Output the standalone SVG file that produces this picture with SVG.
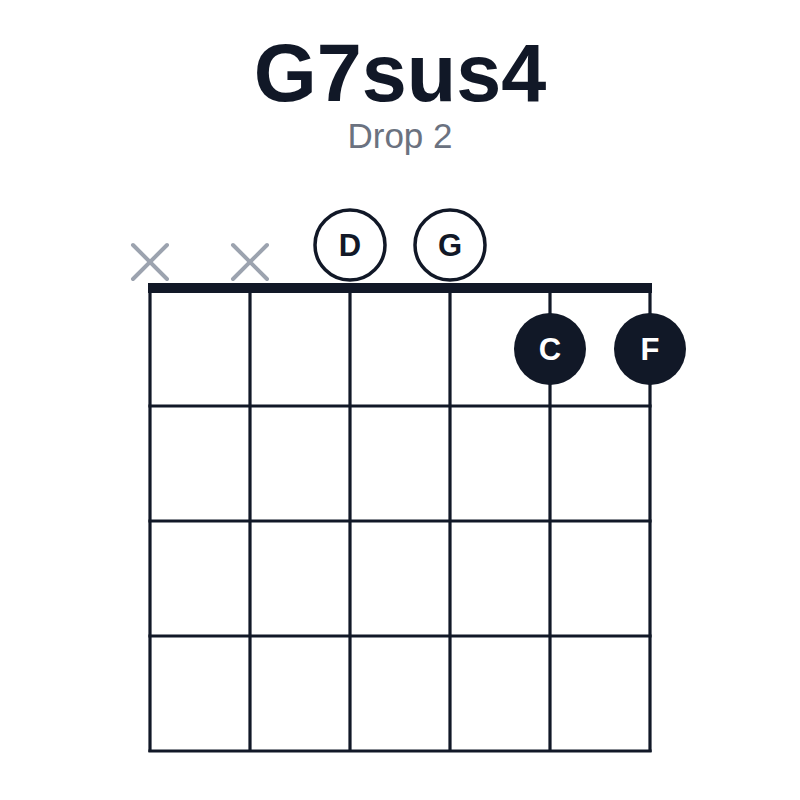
<svg xmlns="http://www.w3.org/2000/svg" width="800" height="800" viewBox="0 0 800 800">
<style>
.title{font-family:"Liberation Sans",Arial,sans-serif;font-weight:700;font-size:81px;fill:#111827;text-anchor:middle}
.sub{font-family:"Liberation Sans",Arial,sans-serif;font-weight:400;font-size:35px;fill:#6b7280;text-anchor:middle}
.str{stroke:#111827;stroke-width:3.2;fill:none}
.fret{stroke:#111827;stroke-width:3.2;fill:none}
.nut{stroke:#111827;stroke-width:10;fill:none}
.mute{stroke:#9ca3af;stroke-width:4;stroke-linecap:round;fill:none}
.open circle{fill:#ffffff;stroke:#111827;stroke-width:3.5}
.open text{font-family:"Liberation Sans",Arial,sans-serif;font-weight:700;font-size:31px;fill:#111827;text-anchor:middle}
.fing circle{fill:#111827}
.fing text{font-family:"Liberation Sans",Arial,sans-serif;font-weight:700;font-size:31px;fill:#ffffff;text-anchor:middle}
</style>
<rect width="800" height="800" fill="#ffffff"/>
<text class="title" x="400" y="101">G7sus4</text>
<text class="sub" x="400" y="148">Drop 2</text>
<g id="grid">
<line class="str" x1="150" y1="288" x2="150" y2="752"/>
<line class="str" x1="250" y1="288" x2="250" y2="752"/>
<line class="str" x1="350" y1="288" x2="350" y2="752"/>
<line class="str" x1="450" y1="288" x2="450" y2="752"/>
<line class="str" x1="550" y1="288" x2="550" y2="752"/>
<line class="str" x1="650" y1="288" x2="650" y2="752"/>
<line class="fret" x1="148.4" y1="406" x2="651.6" y2="406"/>
<line class="fret" x1="148.4" y1="521" x2="651.6" y2="521"/>
<line class="fret" x1="148.4" y1="636" x2="651.6" y2="636"/>
<line class="fret" x1="148.4" y1="751" x2="651.6" y2="751"/>
<line class="nut" x1="148" y1="288" x2="652" y2="288"/>
</g>
<g id="mute1"><path class="mute" d="M133 245 L167 279 M167 245 L133 279"/></g>
<g id="mute2"><path class="mute" d="M233 245 L267 279 M267 245 L233 279"/></g>
<g id="openD" class="open"><circle cx="350" cy="245" r="35"/><text x="350" y="256">D</text></g>
<g id="openG" class="open"><circle cx="450" cy="245" r="35"/><text x="450" y="256">G</text></g>
<g id="fingC" class="fing"><circle cx="550" cy="349" r="36"/><text x="550" y="360">C</text></g>
<g id="fingF" class="fing"><circle cx="650" cy="349" r="36"/><text x="650" y="360">F</text></g>
</svg>
